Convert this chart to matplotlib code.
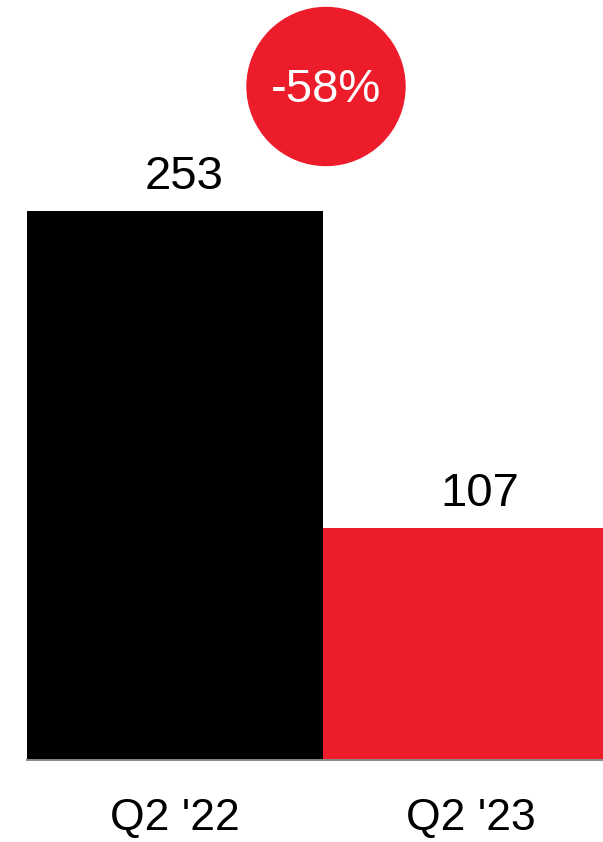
import matplotlib.pyplot as plt
from matplotlib.patches import Circle

plt.rcParams['font.family'] = ['Liberation Sans', 'DejaVu Sans']

quarters = ["Q2 '22", "Q2 '23"]
values = [253, 107]
bar_colors = ['#000000', '#ED1C2B']
change = "-58%"
red = '#ED1C2B'

W, H = 603, 842
fig = plt.figure(figsize=(W / 100, H / 100), dpi=100)

# axes in pixel terms: left edge 27, baseline 760 from the top
left, base = 27, 760
unit_px = 296          # width of one bar
ax = fig.add_axes([left / W, (H - base) / H, 2 * unit_px / W, base / H])

bars = ax.bar(range(len(values)), values, width=1.0, color=bar_colors, zorder=1)
ax.set_xlim(-0.5, 1.5)
ax.set_ylim(0, values[0] * base / 549)

for rect, v in zip(bars, values):
    ax.annotate(str(v), (rect.get_x() + rect.get_width() / 2, v),
                xytext=(6.5, 15.8), textcoords='offset points',
                ha='center', va='baseline', fontsize=34)

for s in ['top', 'left', 'right']:
    ax.spines[s].set_visible(False)
ax.spines['bottom'].set_color('#8a8a8a')
ax.spines['bottom'].set_linewidth(1.4)
ax.spines['bottom'].set_zorder(3)
ax.set_yticks([])
ax.set_xticks(range(len(quarters)))
ax.set_xticklabels(quarters, fontsize=32)
ax.tick_params(axis='x', length=0, pad=27)

# change badge
cx, cy, r = 326, 86.5, 79
badge = Circle((cx / 100, (H - cy) / 100), r / 100, transform=fig.dpi_scale_trans,
               color=red, zorder=5)
fig.add_artist(badge)
fig.text(cx / W, 1 - 90 / H, change, ha='center', va='center', color='white',
         fontsize=34, zorder=6)

fig.savefig('out.png', dpi=100)
